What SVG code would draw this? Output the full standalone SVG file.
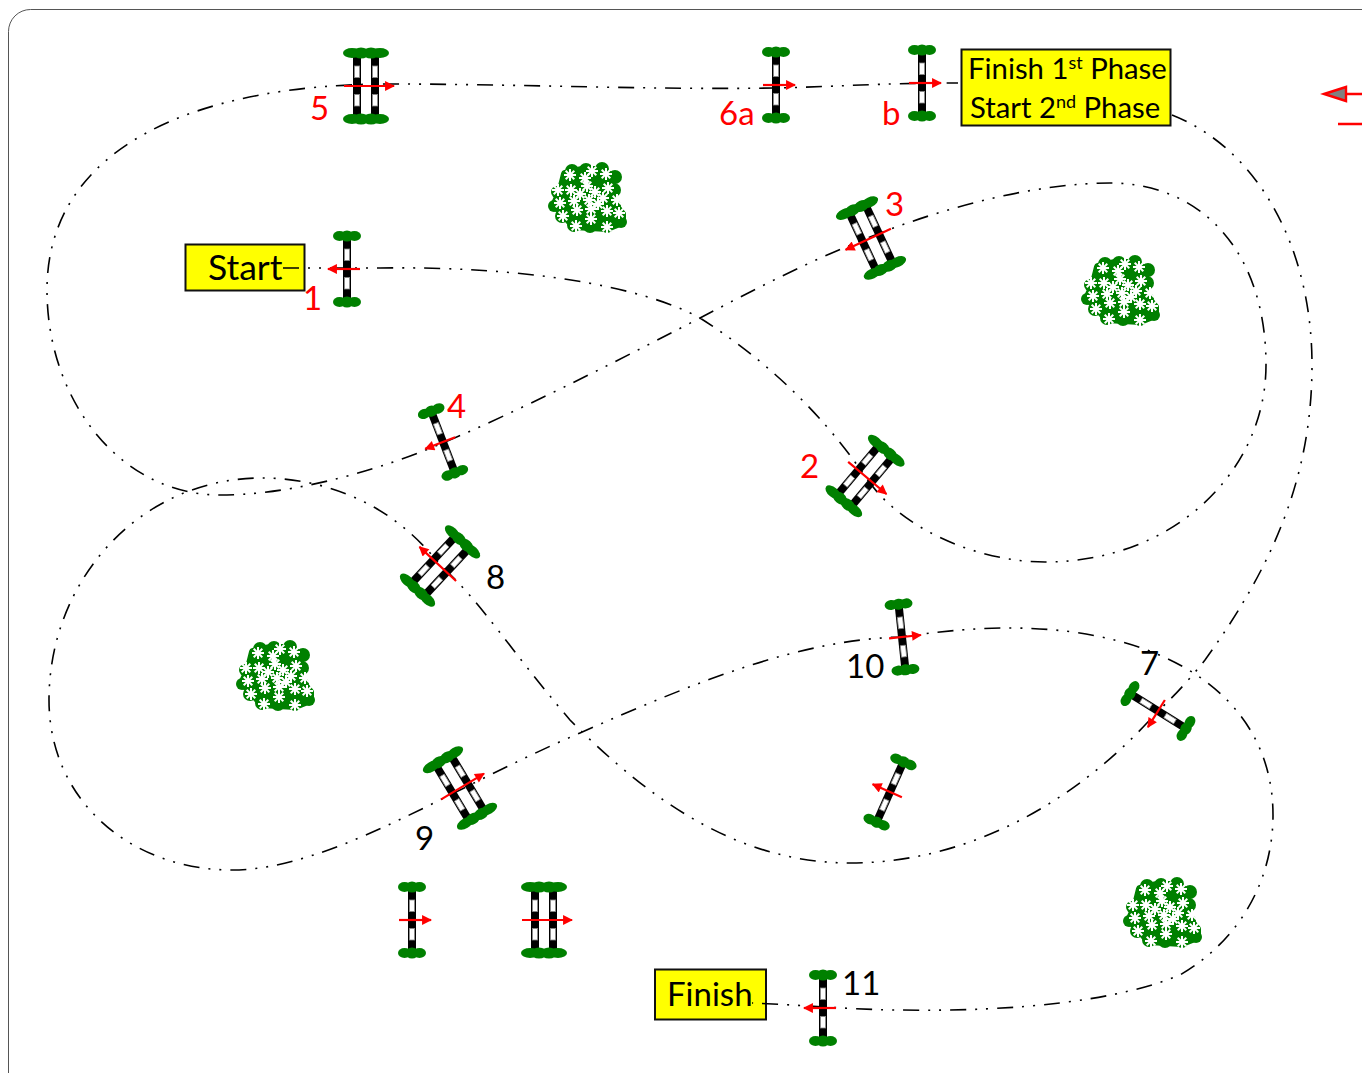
<svg xmlns="http://www.w3.org/2000/svg" width="1362" height="1073" viewBox="0 0 1362 1073">
<style>
.route{fill:none;stroke:#000;stroke-width:1.6;stroke-dasharray:16 9 2 9 2 9}
.box{fill:#ff0;stroke:#111;stroke-width:2}
.t{font-family:"Lato","Liberation Sans",sans-serif}
.red{fill:#f00}
.blk{fill:#000}
.lab{font-size:33px}
.ph{font-size:29.3px}
.sup{font-size:18px}
.ar{stroke:#f00;stroke-width:2.2;fill:none}
.leaf{fill:#008000}
</style>
<defs>
<marker id="head" viewBox="0 0 10 10" refX="9" refY="5" markerWidth="5.5" markerHeight="4.5" orient="auto" markerUnits="strokeWidth"><path d="M0,0L10,5L0,10Z" fill="#f00"/></marker>
<g id="pole"><rect x="-4" y="-31" width="8" height="62" fill="#000"/><rect x="-2.600" y="-20" width="5.200" height="11.500" fill="#fff" stroke="#888" stroke-width="0.8"/><rect x="-2.600" y="8.500" width="5.200" height="11.500" fill="#fff" stroke="#888" stroke-width="0.8"/></g>
<g id="tuft1" class="leaf"><ellipse cx="-7.500" cy="0" rx="6.500" ry="5"/><ellipse cx="0" cy="0" rx="6.500" ry="5.500"/><ellipse cx="7.500" cy="0" rx="6.500" ry="5"/></g>
<g id="tuft2" class="leaf"><ellipse cx="-14" cy="0" rx="9" ry="5"/><ellipse cx="-5" cy="0" rx="8" ry="5.500"/><ellipse cx="5" cy="0" rx="8" ry="5.500"/><ellipse cx="14" cy="0" rx="9" ry="5"/></g>
<g id="single"><use href="#pole"/><use href="#tuft1" y="-33"/><use href="#tuft1" y="33"/><line class="ar" x1="-13" x2="19" y1="0" y2="0" marker-end="url(#head)"/></g>
<g id="double"><use href="#pole" x="-9"/><use href="#pole" x="9"/><use href="#tuft2" y="-33"/><use href="#tuft2" y="33"/><line class="ar" x1="-22" x2="28" y1="0" y2="0" marker-end="url(#head)"/></g>
<path id="star" d="M-6,0H6M0,-6V6M-4.300,-4.300L4.300,4.300M-4.300,4.300L4.300,-4.300" stroke="#fff" stroke-width="2" fill="none"/>
<g id="bush">
<path class="leaf" stroke="#008000" stroke-width="8" stroke-linejoin="round" d="M-23,-24L-6,-28L12,-28L24,-22L24,-8L24,4L34,16L34,24L19,30L-14,28L-28,12L-34,8L-27,-8Z"/>
<circle class="leaf" cx="-16" cy="-27" r="7"/><circle class="leaf" cx="-2" cy="-28" r="7"/><circle class="leaf" cx="14" cy="-29" r="7"/><circle class="leaf" cx="27" cy="-21" r="7"/><circle class="leaf" cx="26" cy="-8" r="7"/><circle class="leaf" cx="27" cy="7" r="6"/><circle class="leaf" cx="33" cy="24" r="6"/><circle class="leaf" cx="19" cy="29" r="6"/><circle class="leaf" cx="2" cy="28" r="7"/><circle class="leaf" cx="-14" cy="27" r="7"/><circle class="leaf" cx="-26" cy="18" r="7"/><circle class="leaf" cx="-34" cy="8" r="6"/><circle class="leaf" cx="-31" cy="-6" r="6"/>
<use href="#star" x="-18" y="-23"/><use href="#star" x="4" y="-27"/><use href="#star" x="18" y="-24"/><use href="#star" x="-3" y="-20"/><use href="#star" x="-1" y="-12"/><use href="#star" x="20" y="-10"/><use href="#star" x="-30" y="-8"/><use href="#star" x="-17" y="-8"/><use href="#star" x="-8" y="-4"/><use href="#star" x="7" y="-6"/><use href="#star" x="-14" y="3"/><use href="#star" x="1" y="2"/><use href="#star" x="15" y="0"/><use href="#star" x="29" y="2"/><use href="#star" x="-28" y="5"/><use href="#star" x="10" y="6"/><use href="#star" x="-11" y="12"/><use href="#star" x="3" y="11"/><use href="#star" x="19" y="13"/><use href="#star" x="31" y="15"/><use href="#star" x="-25" y="18"/><use href="#star" x="3" y="21"/><use href="#star" x="-12" y="28"/><use href="#star" x="19" y="29"/>
</g>
</defs>
<rect id="frame" x="8.500" y="9.500" width="1400" height="1110" rx="22" fill="#fff" stroke="#555" stroke-width="1"/>
<g id="bushes"><use href="#bush" x="588" y="198"/><use href="#bush" x="1121" y="291"/><use href="#bush" x="276" y="676"/><use href="#bush" x="1163" y="913"/></g>
<g id="start-box"><rect class="box" x="185.500" y="244.500" width="119" height="46"/><text class="t blk" x="208" y="280" font-size="35.500">Start</text></g>
<g id="phase-box"><rect class="box" x="961.500" y="49.500" width="209" height="76"/><text class="t blk ph" x="968" y="79">Finish 1<tspan class="sup" dy="-10">st</tspan><tspan dy="10"> Phase</tspan></text><text class="t blk ph" x="970" y="118">Start 2<tspan class="sup" dy="-10">nd</tspan><tspan dy="10"> Phase</tspan></text></g>
<g id="finish-box"><rect class="box" x="655" y="969.500" width="111" height="50"/><text class="t blk" x="667" y="1006" font-size="33">Finish</text></g>
<g id="connectors">
<path class="route" d="M283,268H380C520,266 640,285 700,318C790,375 840,440 865,476C900,530 980,562 1045,562C1175,562 1266,470 1266,365C1266,250 1200,183 1110,183C1040,183 950,205 870,237C800,265 750,292 700,318C600,370 520,410 443,443C360,478 280,495 220,495C120,495 47,400 47,290C47,150 190,84 390,84C520,84 650,90 775,88C830,87 880,83 958,83"/>
<path class="route" d="M1172,115C1260,150 1312,250 1312,365C1312,480 1270,570 1205,660C1185,685 1170,700 1158,711C1070,810 960,863 850,863C730,863 640,790 570,720C510,650 480,600 440,565C390,500 320,478 262,478C140,478 49,580 49,700C49,800 130,870 232,870C300,870 380,830 460,790C500,770 540,750 580,733C700,680 800,640 900,637C950,630 980,628 1010,628C1170,628 1273,700 1273,815C1273,880 1240,940 1180,975C1120,1000 1020,1012 900,1010C860,1010 800,1005 752,1003"/>
</g>
<g id="jump-1"><use href="#single" transform="translate(347,269) rotate(180)"/><text class="t lab red" x="303" y="310">1</text></g>
<g id="jump-2"><use href="#double" transform="translate(865,476) rotate(40)"/><text class="t lab red" x="800" y="478">2</text></g>
<g id="jump-3"><use href="#double" transform="translate(871,238) rotate(155)"/><text class="t lab red" x="885" y="216">3</text></g>
<g id="jump-4"><use href="#single" transform="translate(443,442) rotate(159)"/><text class="t lab red" x="447" y="418">4</text></g>
<g id="jump-5"><use href="#double" transform="translate(366,86)"/><text class="t lab red" x="310" y="120">5</text></g>
<g id="jump-6a"><use href="#single" transform="translate(776,85)"/><text class="t lab red" x="719" y="125">6a</text></g>
<g id="jump-6b"><use href="#single" transform="translate(922,83)"/><text class="t lab red" x="882" y="125">b</text></g>
<g id="jump-7"><use href="#single" transform="translate(1158,711) rotate(122)"/><text class="t lab blk" x="1140" y="675">7</text></g>
<g id="jump-8"><use href="#double" transform="translate(440,566) rotate(223)"/><text class="t lab blk" x="486" y="589">8</text></g>
<g id="jump-9"><use href="#double" transform="translate(460,788) rotate(-31)"/><text class="t lab blk" x="415" y="850">9</text></g>
<g id="jump-10"><use href="#single" transform="translate(902,637) rotate(-6)"/><text class="t lab blk" x="846" y="678">10</text></g>
<g id="jump-11"><use href="#single" transform="translate(823,1008) rotate(180)"/><text class="t lab blk" x="842" y="995">11</text></g>
<g id="jump-a"><use href="#single" transform="translate(890,792) rotate(204)"/></g>
<g id="jump-b"><use href="#single" transform="translate(412,920)"/></g>
<g id="jump-c"><use href="#double" transform="translate(544,920)"/></g>
<g id="direction">
<path d="M1324,94L1346,87V101Z" fill="#808080" stroke="#f00" stroke-width="2.400"/>
<path d="M1346,94H1362M1338,124H1362" stroke="#f00" stroke-width="2.400" fill="none"/>
</g>
</svg>
